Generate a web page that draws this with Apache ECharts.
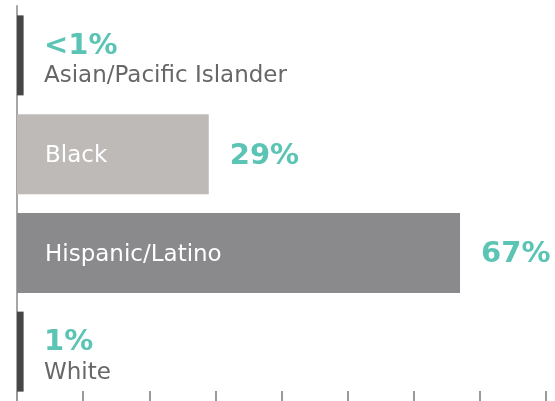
<!DOCTYPE html>
<html>
<head>
<meta charset="utf-8">
<style>
  html, body { margin: 0; padding: 0; background: #fff; }
  #chart { width: 555px; height: 401px; }
</style>
<script src="https://cdn.jsdelivr.net/npm/echarts@6/dist/echarts.min.js"></script>
</head>
<body>
<div id="chart"></div>
<script>
// data
var categories = ['Asian/Pacific Islander', 'Black', 'Hispanic/Latino', 'White'];
var shares = [1, 29, 67, 1];
var shareLabels = ['<1%', '29%', '67%', '1%'];
var barColors = ['#464646', '#bebab8', '#8a898b', '#464646'];
var tickMax = 80;
var tickStep = 10;

var FONT = 'DejaVu Sans';
var TEAL = '#5bc4b4';

var chart = echarts.init(document.getElementById('chart'));

// small bars get percent + name stacked to the right, wide bars get name inside + percent outside
function isSmall(i) {
    return shares[i] < 5;
}

var barData = shares.map(function (v, i) {
    var item = { value: v, itemStyle: { color: barColors[i] } };
    if (isSmall(i)) {
        item.label = {
            show: true,
            position: [27, 16],
            align: 'left',
            verticalAlign: 'top',
            formatter: '{p|' + shareLabels[i] + '}\n{n|' + categories[i] + '}',
            rich: {
                p: { fontFamily: FONT, fontWeight: 'bold', fontSize: 29, color: TEAL, lineHeight: 30 },
                n: { fontFamily: FONT, fontSize: 23, color: '#676767', lineHeight: 30 }
            }
        };
    } else {
        item.label = {
            show: true,
            position: 'right',
            distance: 21,
            offset: [0, 2],
            formatter: shareLabels[i],
            fontFamily: FONT,
            fontWeight: 'bold',
            fontSize: 29,
            color: TEAL
        };
    }
    return item;
});

var nameData = shares.map(function (v, i) {
    return {
        value: v,
        label: {
            show: !isSmall(i),
            position: 'insideLeft',
            distance: 28,
            offset: [0, 2],
            formatter: categories[i],
            fontFamily: FONT,
            fontSize: 23,
            color: '#ffffff'
        }
    };
});

var option = {
    animation: false,
    grid: { left: 17, right: 9, top: 6, bottom: -1, containLabel: false },
    xAxis: {
        type: 'value',
        min: 0,
        max: tickMax,
        interval: tickStep,
        axisLine: { show: false },
        axisTick: { show: true, inside: true, length: 10, lineStyle: { color: '#9a9a9a', width: 2 } },
        axisLabel: { show: false },
        splitLine: { show: false }
    },
    yAxis: {
        type: 'category',
        data: categories,
        inverse: true,
        axisLine: { show: true, lineStyle: { color: '#a6a6a6', width: 2 } },
        axisTick: { show: false },
        axisLabel: { show: false },
        splitLine: { show: false }
    },
    series: [{
        type: 'bar',
        barWidth: 80,
        barGap: '-100%',
        silent: true,
        data: barData
    }, {
        type: 'bar',
        barWidth: 80,
        barGap: '-100%',
        silent: true,
        itemStyle: { color: 'rgba(0,0,0,0)' },
        data: nameData
    }]
};

chart.setOption(option);
</script>
</body>
</html>
